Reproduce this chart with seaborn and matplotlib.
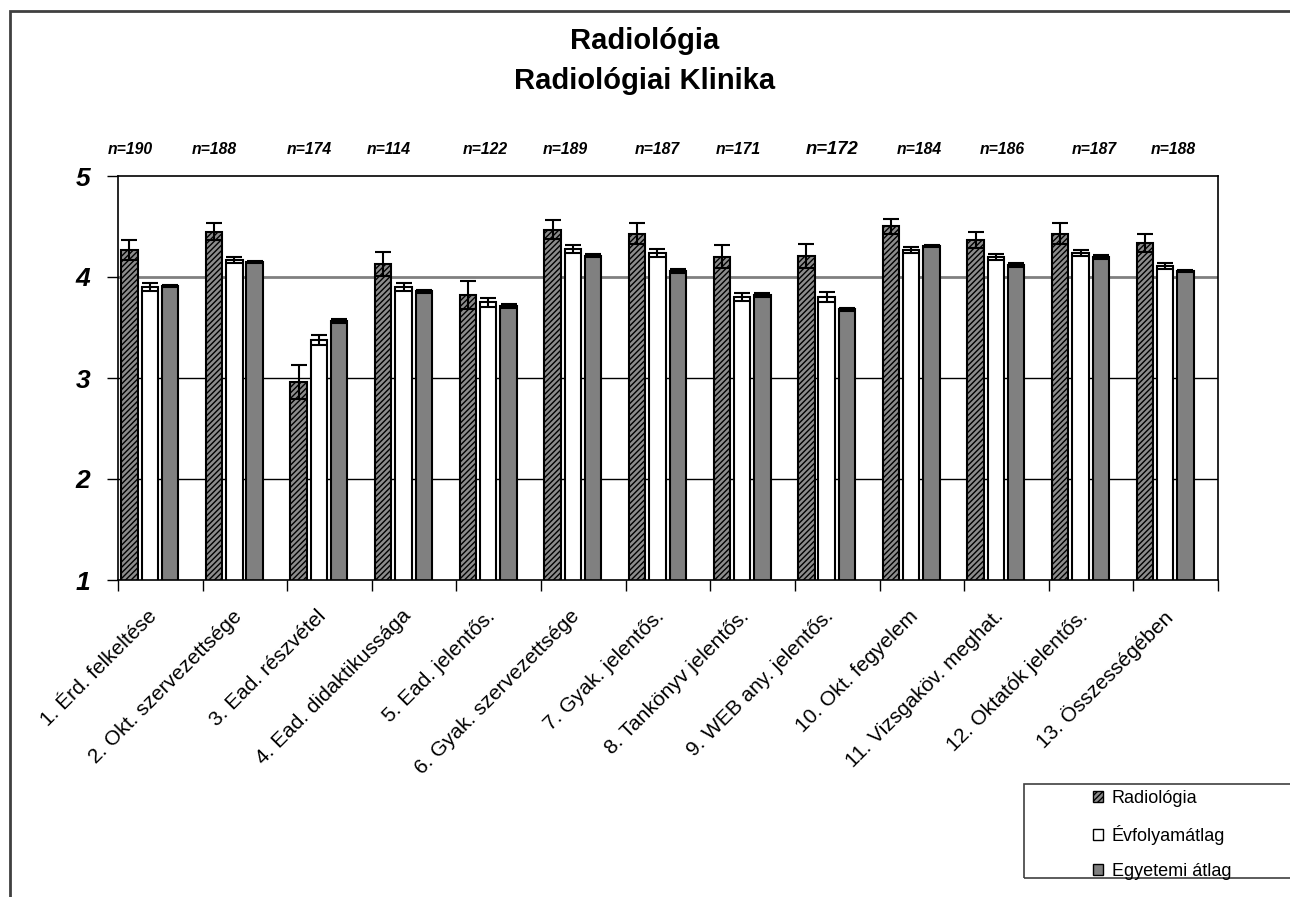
import matplotlib
matplotlib.use("Agg")
import matplotlib.pyplot as plt
from matplotlib.patches import Patch, Rectangle
import seaborn as sns
import pandas as pd

categories = [
    "1. Érd. felkeltése", "2. Okt. szervezettsége", "3. Ead. részvétel",
    "4. Ead. didaktikussága", "5. Ead. jelentős.", "6. Gyak. szervezettsége",
    "7. Gyak. jelentős.", "8. Tankönyv jelentős.", "9. WEB any. jelentős.",
    "10. Okt. fegyelem", "11. Vizsgaköv. meghat.", "12. Oktatók jelentős.",
    "13. Összességében",
]
series = ["Radiológia", "Évfolyamátlag", "Egyetemi átlag"]

radiologia = [4.27, 4.45, 2.96, 4.13, 3.82, 4.47, 4.43, 4.20, 4.21, 4.50, 4.37, 4.43, 4.34]
radiologia_err = [0.10, 0.08, 0.17, 0.12, 0.14, 0.09, 0.10, 0.115, 0.12, 0.07, 0.08, 0.10, 0.09]
evfolyam = [3.90, 4.17, 3.38, 3.90, 3.75, 4.28, 4.24, 3.80, 3.80, 4.27, 4.20, 4.24, 4.11]
evfolyam_err = [0.04, 0.03, 0.05, 0.04, 0.045, 0.04, 0.04, 0.04, 0.05, 0.03, 0.03, 0.03, 0.03]
egyetemi = [3.91, 4.15, 3.56, 3.86, 3.71, 4.21, 4.06, 3.82, 3.68, 4.31, 4.12, 4.20, 4.06]
egyetemi_err = [0.01, 0.01, 0.02, 0.015, 0.02, 0.015, 0.02, 0.02, 0.015, 0.01, 0.02, 0.02, 0.01]
n_labels = ["n=190", "n=188", "n=174", "n=114", "n=122", "n=189", "n=187",
            "n=171", "n=172", "n=184", "n=186", "n=187", "n=188"]

# label x positions (data units) as they sit in the original
n_pos = [-0.23, 0.76, 1.88, 2.83, 3.97, 4.91, 6.00, 6.96, 8.06, 9.10, 10.07, 11.16, 12.10]

df = pd.DataFrame({
    "category": categories * 3,
    "series": [s for s in series for _ in categories],
    "value": radiologia + evfolyam + egyetemi,
})
errs = [radiologia_err, evfolyam_err, egyetemi_err]

sns.set_style("white")
plt.rcParams["font.family"] = ["Liberation Sans", "DejaVu Sans"]
plt.rcParams["hatch.linewidth"] = 1.0
plt.rcParams["text.color"] = "black"
plt.rcParams["xtick.color"] = "black"
plt.rcParams["ytick.color"] = "black"
plt.rcParams["xtick.labelcolor"] = "black"
plt.rcParams["ytick.labelcolor"] = "black"

fig = plt.figure(figsize=(12.9, 8.97), dpi=100)
ax = fig.add_axes([118 / 1290, 1 - 580 / 897, 1100 / 1290, 404 / 897])

for y, c, lw in [(2, "black", 1.0), (3, "black", 1.0), (4, "#808080", 2.0)]:
    ax.axhline(y, color=c, lw=lw, zorder=0)

colors = ["#8c8c8c", "white", "#808080"]
sns.barplot(data=df, x="category", y="value", hue="series", order=categories,
            hue_order=series, palette=colors, width=0.72, gap=0.19,
            edgecolor="black", linewidth=1.5, errorbar=None, legend=False,
            saturation=1, ax=ax, zorder=2)

for cont, e in zip(ax.containers, errs):
    xs = [p.get_x() + p.get_width() / 2 for p in cont.patches]
    hs = [p.get_height() for p in cont.patches]
    ax.errorbar(xs, hs, yerr=e, fmt="none", ecolor="black", elinewidth=1.5,
                capsize=5.5, capthick=1.5, zorder=3)
for p in ax.containers[0].patches:
    p.set_hatch("//////")

ax.set_ylim(1, 5)
ax.set_xlim(-0.375, 12.625)
ax.set_yticks([1, 2, 3, 4, 5])
ax.set_yticklabels(["1", "2", "3", "4", "5"], fontsize=19, fontweight="bold",
                   fontstyle="italic")
ax.tick_params(axis="y", direction="out", length=8, width=1, pad=12, left=True)

ax.set_xticks([k - 0.375 for k in range(14)])
ax.set_xticklabels([])
ax.tick_params(axis="x", which="major", direction="out", length=8, width=1, bottom=True)
ax.set_xticks([k - 0.03 for k in range(13)], minor=True)
ax.set_xticklabels(categories, minor=True, rotation=45, ha="right", va="top",
                   rotation_mode="anchor", fontsize=15)
ax.tick_params(axis="x", which="minor", length=0, pad=19)
ax.set_xlabel("")
ax.set_ylabel("")
for s in ax.spines.values():
    s.set_visible(True)
    s.set_color("black")
    s.set_linewidth(1.2)

for x, t in zip(n_pos, n_labels):
    big = t == "n=172"
    ax.text(x, 1 + 26 / 404, t, transform=ax.get_xaxis_transform(), ha="center",
            va="center", fontsize=13.3 if big else 11.3, fontweight="bold",
            fontstyle="italic")

fig.text(0.5, 1 - 27 / 897, "Radiológia\nRadiológiai Klinika", ha="center",
         va="top", fontsize=21, fontweight="bold", linespacing=1.55)

# outer chart frame
fig.patches.append(Rectangle((10 / 1290, -0.1), 1.2, 1 - 11 / 897 + 0.1,
                             transform=fig.transFigure, fill=False,
                             edgecolor="#404040", lw=2))
# legend box
fig.patches.append(Rectangle((1024 / 1290, 1 - 878 / 897), 0.3, 94 / 897,
                             transform=fig.transFigure, fill=False,
                             edgecolor="#404040", lw=1.2))
handles = [Patch(facecolor=c, edgecolor="black", lw=1, hatch=h)
           for c, h in zip(colors, ["//////", None, None])]
fig.legend(handles, series, loc="center left", frameon=False,
           bbox_to_anchor=(1084 / 1290, 1 - 835 / 897), fontsize=13,
           handlelength=0.55, handleheight=0.55, handletextpad=0.5,
           labelspacing=1.0, borderpad=0)

fig.savefig("out.png", dpi=100)
